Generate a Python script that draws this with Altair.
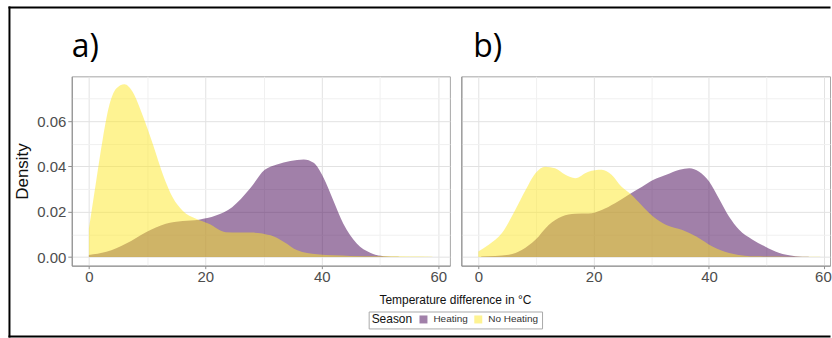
import altair as alt
import pandas as pd

seasons = ["Heating", "No Heating"]
season_colors = ["#440154", "#FDE725"]
panel_labels = ["a)", "b)"]

# ---- panel a) ----
a_heat_x = [0, 3.0, 6.4, 9.8, 13.2, 16.1, 18.9, 21.8, 24.6, 27.6, 30.2, 32.3, 34.6,
            36.9, 38.6, 40.3, 42.0, 43.7, 46.0, 48.3, 50.6, 53.2]
a_heat_y = [0.0009, 0.0023, 0.006, 0.011, 0.0147, 0.0159, 0.0165, 0.0183, 0.022, 0.030,
            0.0385, 0.0409, 0.0424, 0.0431, 0.0416, 0.035, 0.0249, 0.0147, 0.006, 0.0019,
            0.0004, 0.0001]
a_noheat_x = [0, 1.25, 2.4, 3.5, 4.7, 6.1, 7.5, 9.2, 11.0, 12.7, 14.4, 16.1, 18.4, 20.6,
              23.5, 25.8, 27.8, 31.2, 33.5, 35.8, 39.2, 44.9, 50.0, 55.0, 59.0]
a_noheat_y = [0.0125, 0.0336, 0.0525, 0.067, 0.0744, 0.0763, 0.073, 0.0627, 0.0497, 0.0365,
              0.0263, 0.0205, 0.0169, 0.0147, 0.011, 0.0108, 0.0108, 0.0096, 0.0067, 0.003,
              0.0012, 0.0005, 0.0003, 0.0002, 0.0001]

# ---- panel b) ----
b_heat_x = [0.5, 5.3, 7.6, 9.9, 12.2, 14.5, 16.8, 19.1, 21.4, 23.7, 26.0, 28.4, 30.3, 32.6,
            34.9, 36.6, 38.3, 40.0, 41.8, 43.5, 45.2, 47.5, 49.8, 52.1, 55.0, 57.3]
b_heat_y = [0.0002, 0.001, 0.0032, 0.0076, 0.0142, 0.0179, 0.0191, 0.0192, 0.0208, 0.0238,
            0.0274, 0.031, 0.034, 0.0363, 0.0385, 0.0392, 0.0377, 0.0335, 0.0255, 0.0178,
            0.0122, 0.0078, 0.0046, 0.0019, 0.0004, 0.0001]
b_noheat_x = [0, 1.8, 4.1, 6.4, 8.2, 9.9, 11.6, 13.3, 15.1, 16.8, 19.1, 21.4, 23.1, 24.8,
              26.6, 28.2, 30.3, 32.6, 35.4, 37.8, 40.6, 43.5, 48.1, 52.0, 56.0, 59.3]
b_noheat_y = [0.0025, 0.0054, 0.0106, 0.0208, 0.0296, 0.037, 0.0399, 0.0392, 0.0363, 0.0348,
              0.0377, 0.0385, 0.0363, 0.0311, 0.0274, 0.0232, 0.0179, 0.0142, 0.012, 0.0091,
              0.0047, 0.0018, 0.0003, 0.0002, 0.0001, 0.0001]

x_ticks = [0, 10, 20, 30, 40, 50, 60]
y_ticks = [0, 0.01, 0.02, 0.03, 0.04, 0.05, 0.06, 0.07]
y_domain = [-0.0038, 0.0798]

FONT = "Liberation Sans"
GRID_MAJOR = "#e2e2e2"
GRID_MINOR = "#f0f0f0"
AXIS_GRAY = "#8f8f8f"
LABEL_GRAY = "#4d4d4d"


def make_df(hx, hy, nx, ny):
    rows = [{"x": a, "density": b, "Season": "Heating"} for a, b in zip(hx, hy)]
    rows += [{"x": a, "density": b, "Season": "No Heating"} for a, b in zip(nx, ny)]
    return pd.DataFrame(rows)


df_a = make_df(a_heat_x, a_heat_y, a_noheat_x, a_noheat_y)
df_b = make_df(b_heat_x, b_heat_y, b_noheat_x, b_noheat_y)

major_x = "datum.value % 20 === 0"
major_y = "round(datum.value * 100) % 2 === 0"


def x_axis(title_on, flush=False):
    kw = dict(
        values=x_ticks,
        labelExpr=f"{major_x} ? datum.label : ''",
        gridColor={"condition": {"test": major_x, "value": GRID_MAJOR}, "value": GRID_MINOR},
        tickOpacity={"condition": {"test": major_x, "value": 1}, "value": 0},
        tickColor=AXIS_GRAY, tickSize=3, labelPadding=1,
        labelFont=FONT, labelFontSize=15, labelColor=LABEL_GRAY,
        domain=True, domainColor=AXIS_GRAY,
    )
    if title_on:
        kw.update(title="Temperature difference in °C", titleFont=FONT, titleFontSize=12,
                  titleFontWeight="normal", titleColor="#111111",
                  titleX=384.5, titleY=38, titleAlign="center", titleBaseline="alphabetic")
    else:
        kw.update(title=None)
    if flush:
        kw.update(labelFlush=8, labelFlushOffset=7)
    return alt.Axis(**kw)


def y_axis(show_labels):
    kw = dict(
        values=y_ticks,
        gridColor={"condition": {"test": major_y, "value": GRID_MAJOR}, "value": GRID_MINOR},
        domain=True, domainColor=AXIS_GRAY,
    )
    if show_labels:
        kw.update(
            labelExpr=f"{major_y} ? format(datum.value, '.2f') : ''",
            tickOpacity={"condition": {"test": major_y, "value": 1}, "value": 0},
            tickColor=AXIS_GRAY, tickSize=4, labelPadding=2,
            labelFont=FONT, labelFontSize=15, labelColor=LABEL_GRAY,
            title="Density", titleFont=FONT, titleFontSize=17, titleFontWeight="normal",
            titleColor="#111111", titlePadding=5,
        )
    else:
        kw.update(labels=False, ticks=False, title=None)
    return alt.Axis(**kw)


legend = alt.Legend(
    orient="none", legendX=298, legendY=236, direction="horizontal",
    title="Season", titleOrient="left", titleFont=FONT, titleFontSize=12,
    titleFontWeight="normal", titleColor="#111111", titlePadding=6,
    labelFont=FONT, labelFontSize=10, labelColor="#333333", labelOffset=5,
    symbolType="square", symbolSize=64, symbolOpacity=0.5, symbolStrokeWidth=0,
    columnPadding=5, padding=3, strokeColor="#aaaaaa", fillColor="white",
)


def density_layer(df, xdom, show_y, x_title, flush):
    return alt.Chart(df).mark_area(opacity=0.5, interpolate="monotone").encode(
        x=alt.X("x:Q", scale=alt.Scale(domain=xdom, nice=False, zero=False),
                axis=x_axis(x_title, flush)),
        y=alt.Y("density:Q", stack=None, scale=alt.Scale(domain=y_domain, nice=False, zero=False),
                axis=y_axis(show_y)),
        y2=alt.Y2(datum=0),
        color=alt.Color("Season:N", scale=alt.Scale(domain=seasons, range=season_colors),
                        legend=legend),
    )


one_row = pd.DataFrame({"k": [0]})
rule_style = dict(color="black", strokeWidth=2, strokeCap="square")
border_left = alt.Chart(one_row).mark_rule(**rule_style).encode(
    x=alt.value(-62.5), y=alt.value(-69), y2=alt.value(261))
border_top = alt.Chart(one_row).mark_rule(**rule_style).encode(
    x=alt.value(-62.5), x2=alt.value(760.5), y=alt.value(-69))
border_bottom = alt.Chart(one_row).mark_rule(**rule_style).encode(
    x=alt.value(-62.5), x2=alt.value(760.5), y=alt.value(261))


def panel_label(text, dx):
    return alt.Chart(one_row).mark_text(
        text=text, fontSize=32, font="Open Sans", color="#000000",
        align="left", baseline="alphabetic",
    ).encode(x=alt.value(dx), y=alt.value(-19.5))


panel_a = alt.layer(
    density_layer(df_a, [-2.95, 62.0], True, True, False),
    border_left, border_top, border_bottom,
    panel_label(panel_labels[0], 0),
).properties(width=379.5, height=190)

panel_b = alt.layer(
    density_layer(df_b, [-2.95, 61.0], False, False, True),
    panel_label(panel_labels[1], 12),
).properties(width=370, height=190)

chart = alt.hconcat(panel_a, panel_b, spacing=11, bounds="flush").properties(
    padding={"left": 7, "top": 5, "right": 0, "bottom": 1},
    background="white",
).configure_view(stroke="#a6a6a6", strokeWidth=1)

chart.save("out.html", embed_options={"renderer": "svg", "actions": False})
